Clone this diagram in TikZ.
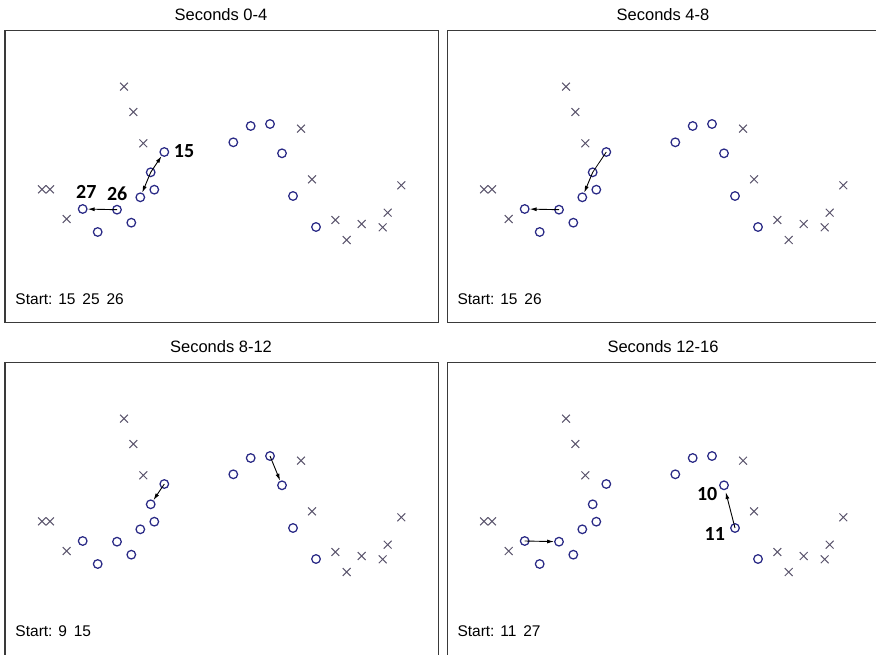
\documentclass[tikz,border=0pt]{standalone}
\usepackage{fontspec}
\setmainfont{Liberation Sans}
\newfontfamily\lblfont{Carlito}
\usetikzlibrary{arrows.meta,shapes.misc}
\definecolor{framegray}{HTML}{3A3A3A}
\definecolor{dotblue}{HTML}{2A2A86}
\definecolor{crossgray}{HTML}{5C566E}
\tikzset{
  panelframe/.style={draw=framegray, line width=1.1pt},
  dot/.style={circle, draw=dotblue, line width=1.25pt, minimum size=8.6pt, inner sep=0pt},
  crs/.style={cross out, draw=crossgray, line width=1pt, minimum size=6.8pt, inner sep=0pt},
  ttl/.style={font=\fontsize{16.5}{18}\selectfont, inner sep=0pt},
  starttxt/.style={font=\fontsize{15.5}{18}\selectfont, anchor=west, inner sep=0pt},
  lbl/.style={font=\lblfont\bfseries\fontsize{20}{22}\selectfont, inner sep=0pt},
  mv/.style={draw=black, line width=0.9pt, -{Latex[length=7pt,width=4pt]}},
  mvline/.style={draw=black, line width=0.8pt},
}
\newcommand\drawpanel[5]{%
  \begin{scope}[shift={(#2,#3)}]
    \node[ttl] (#1title) at (221,14.7) {#4};
    \node[starttxt] (#1start) at (15.3,299.5) {#5};
    % crosses
    \node[crs] (#1x1) at (124,86.7) {};
    \node[crs] (#1x2) at (133.3,112) {};
    \node[crs] (#1x3) at (143.3,143.3) {};
    \node[crs] (#1x4) at (42,189.3) {};
    \node[crs] (#1x5) at (50,189.3) {};
    \node[crs] (#1x6) at (66.7,219) {};
    \node[crs] (#1x7) at (301,128.7) {};
    \node[crs] (#1x8) at (312,179.3) {};
    \node[crs] (#1x9) at (335.3,220) {};
    \node[crs] (#1x10) at (346.7,240) {};
    \node[crs] (#1x11) at (361.7,224) {};
    \node[crs] (#1x12) at (382.7,227.3) {};
    \node[crs] (#1x13) at (387.7,212.7) {};
    \node[crs] (#1x14) at (401.3,185.3) {};
    % circles
    \node[dot] (#1c15) at (164.3,152) {};
    \node[dot] (#1cA) at (150.7,172.3) {};
    \node[dot] (#1cB) at (154.3,189.7) {};
    \node[dot] (#1cK) at (140.3,197.3) {};
    \node[dot] (#1c27) at (82.7,209) {};
    \node[dot] (#1c26) at (117,209.7) {};
    \node[dot] (#1cC) at (131.3,222.7) {};
    \node[dot] (#1cD) at (97.7,232) {};
    \node[dot] (#1cE) at (233.3,142.3) {};
    \node[dot] (#1cF) at (250.7,126) {};
    \node[dot] (#1cG) at (270,124) {};
    \node[dot] (#1cH) at (282,153.3) {};
    \node[dot] (#1cI) at (293,196) {};
    \node[dot] (#1cJ) at (316,227) {};
  \end{scope}}
\begin{document}
\begin{tikzpicture}[x=1pt,y=-1pt]
\useasboundingbox (0,0) rectangle (876,655);
\clip (0,0) rectangle (876,655);
\fill[white] (0,0) rectangle (876,655);
% frames
\draw[panelframe] (5,30.7) rectangle (438.7,322.7);
\draw[panelframe] (447.7,30.7) rectangle (885,322.7);
\draw[panelframe] (5,362.7) rectangle (438.7,665);
\draw[panelframe] (447.7,362.7) rectangle (885,665);
% panels
\drawpanel{pa}{0}{0}{Seconds 0-4}{Start: 15\ \,25\ \,26}
\drawpanel{pb}{442}{0}{Seconds 4-8}{Start: 15\ \,26}
\drawpanel{pc}{0}{332}{Seconds 8-12}{Start: 9\ \,15}
\drawpanel{pd}{442}{332}{Seconds 12-16}{Start: 11\ \,27}
% panel 1 movements and labels
\draw[mv] (pacA.center) -- (pac15);
\draw[mv] (pacA.center) -- (pacK);
\draw[mv] (pac26.center) -- (pac27);
\node[lbl] (pal15) at (184,150.7) {15};
\node[lbl] (pal27) at (86.3,192.3) {27};
\node[lbl] (pal26) at (117.2,193.8) {26};
% panel 2
\draw[mvline] (pbcA.center) -- (pbc15.center);
\draw[mv] (pbcA.center) -- (pbcK);
\draw[mv] (pbc26.center) -- (pbc27);
% panel 3
\draw[mv] (pcc15.center) -- (pccA);
\draw[mv] (pccG.center) -- (pccH);
% panel 4
\draw[mv] (pdc27.center) -- (pdc26);
\draw[mv, shorten >=2pt] (pdcI.center) -- (pdcH);
\begin{scope}[shift={(442,332)}]
\node[lbl] (pdl10) at (265.2,162) {10};
\node[lbl] (pdl11) at (272.8,202) {11};
\end{scope}
\end{tikzpicture}
\end{document}
